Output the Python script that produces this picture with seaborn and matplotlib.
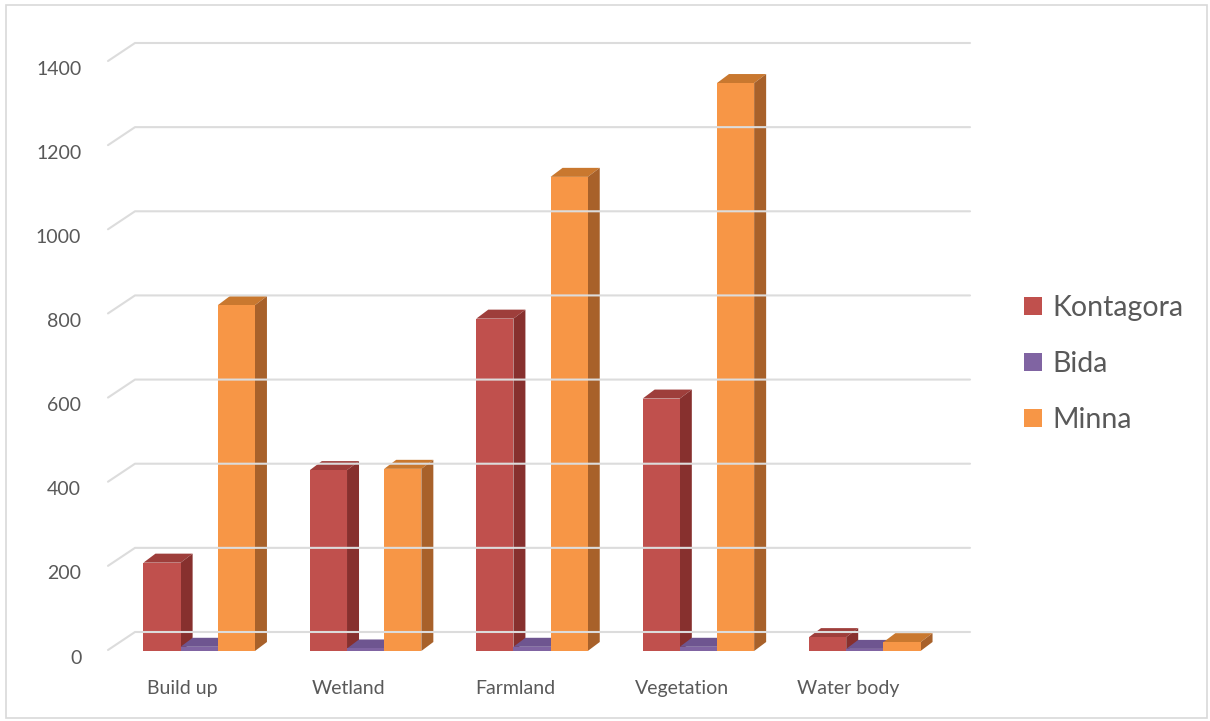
import matplotlib
matplotlib.use("Agg")
import matplotlib.pyplot as plt
from matplotlib.patches import Polygon, Patch, Rectangle
from matplotlib.lines import Line2D
from matplotlib.transforms import ScaledTranslation, IdentityTransform
import seaborn as sns
import pandas as pd

# Land-cover area by town
categories = ["Build up", "Wetland", "Farmland", "Vegetation", "Water body"]
series = ["Kontagora", "Bida", "Minna"]
kontagora = [210, 430, 790, 600, 33]
bida = [10, 6, 10, 10, 5]
minna = [822, 433, 1127, 1350, 21]
y_ticks = [0, 200, 400, 600, 800, 1000, 1200, 1400]

front = {"Kontagora": "#C0504D", "Bida": "#8064A2", "Minna": "#F79646"}
side = {"Kontagora": "#87302E", "Bida": "#5B4478", "Minna": "#A8612A"}
top = {"Kontagora": "#9E3E3B", "Bida": "#6E5590", "Minna": "#C9782F"}

df = pd.DataFrame({
    "category": categories * 3,
    "series": ["Kontagora"] * 5 + ["Bida"] * 5 + ["Minna"] * 5,
    "value": kontagora + bida + minna,
})

sns.set_theme(style="white")
plt.rcParams["font.family"] = ["Lato", "DejaVu Sans"]

W, H = 1210, 721
fig = plt.figure(figsize=(W / 100, H / 100), dpi=100)
ax = fig.add_axes([116 / W, (H - 651) / H, 832 / W, 589 / H])

sns.barplot(data=df, x="category", y="value", hue="series", palette=front,
            width=0.67, dodge=True, ax=ax, legend=False, saturation=1,
            order=categories, hue_order=series)

ax.set_xlim(-0.5, len(categories) - 0.5)
ax.set_ylim(0, 1400)
ax.set_yticks(y_ticks)
ax.set_xlabel("")
ax.set_ylabel("")
for s in ax.spines.values():
    s.set_visible(False)
ax.tick_params(axis="both", length=0, labelsize=14, colors="#595959")
ax.tick_params(axis="y", pad=25)
ax.tick_params(axis="x", pad=21)
for lab in ax.get_yticklabels():
    lab.set_transform(lab.get_transform() + ScaledTranslation(0, -4 / 72, fig.dpi_scale_trans))
for lab in ax.get_xticklabels():
    lab.set_transform(lab.get_transform() + ScaledTranslation(-12 / 72, 0, fig.dpi_scale_trans))

fig.canvas.draw()

# Back-wall gridlines with the slanted floor/wall join
bb = ax.get_window_extent()
gdx, gdy = 27, 18
for v in y_ticks:
    yp = ax.transData.transform((0, v))[1] + 1
    ln = Line2D([bb.x0 - 8, bb.x0 - 8 + gdx, bb.x1 + 22],
                [yp, yp + gdy, yp + gdy], transform=IdentityTransform(),
                color="#dcdcdc", lw=1.5, zorder=0.5, clip_on=False)
    fig.add_artist(ln)

# 3-D faces on each bar
ddx, ddy = 12, 9
bars = [p for p in ax.patches if isinstance(p, Rectangle)]
for p in bars:
    x0, y0 = p.get_x(), p.get_y()
    x1, y1 = x0 + p.get_width(), y0 + p.get_height()
    (px0, py0), (px1, py1) = ax.transData.transform([(x0, y0), (x1, y1)])
    fc = p.get_facecolor()
    name = min(front, key=lambda k: sum((a - b) ** 2 for a, b in
                                          zip(matplotlib.colors.to_rgb(front[k]), fc[:3])))
    z = 2 + px0 / 1000.0
    p.set_zorder(z + 0.0003)
    p.set_edgecolor("none")
    tp = Polygon([(px0, py1), (px1, py1), (px1 + ddx, py1 + ddy), (px0 + ddx, py1 + ddy)],
                 closed=True, transform=IdentityTransform(), facecolor=top[name],
                 edgecolor="none", zorder=z + 0.0001)
    sd = Polygon([(px1, py0), (px1 + ddx, py0 + ddy), (px1 + ddx, py1 + ddy), (px1, py1)],
                 closed=True, transform=IdentityTransform(), facecolor=side[name],
                 edgecolor="none", zorder=z + 0.0002)
    ax.add_patch(tp)
    ax.add_patch(sd)
    tp.set_clip_on(False)
    sd.set_clip_on(False)
    p.set_clip_on(False)

handles = [Patch(facecolor=front[s], edgecolor="none", label=s) for s in series]
fig.legend(handles=handles, loc="center left", bbox_to_anchor=(1024 / W, (H - 364) / H),
           frameon=False, fontsize=20.5, handlelength=0.63, handleheight=0.63,
           handletextpad=0.35, labelspacing=1.05, borderpad=0, borderaxespad=0,
           labelcolor="#595959")

fig.add_artist(Rectangle((6, 3), 1201, 713, transform=IdentityTransform(),
                         facecolor="none", edgecolor="#d9d9d9", lw=1.2))

fig.savefig("out.png", dpi=100)
